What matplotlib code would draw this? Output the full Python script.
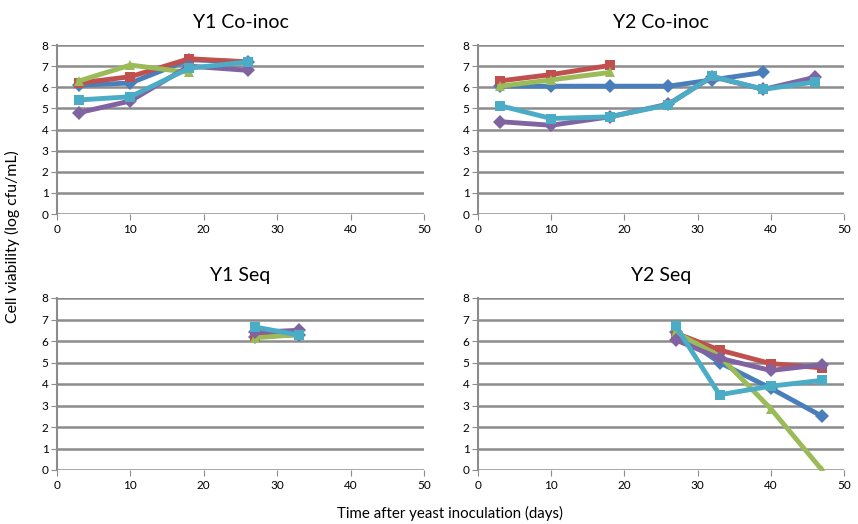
import matplotlib.pyplot as plt

plt.rcParams['font.family'] = ['Lato', 'DejaVu Sans']

# Sampling days for each panel
y1_co_days = [3, 10, 18, 26]
y2_co_days = [3, 10, 18, 26, 32, 39, 46]
y1_seq_days = [27, 33]
y2_seq_days = [27, 33, 40, 47]

# Y1 Co-inoc (log cfu/mL)
y1_co_blue = [6.1, 6.2, 7.3, 7.2]
y1_co_red = [6.2, 6.5, 7.35, 7.2]
y1_co_green = [6.3, 7.05, 6.7]
y1_co_purple = [4.8, 5.35, 7.0, 6.8]
y1_co_cyan = [5.4, 5.55, 6.9, 7.2]

# Y2 Co-inoc
y2_co_blue = [6.05, 6.05, 6.05, 6.05, 6.35, 6.7]
y2_co_red = [6.3, 6.6, 7.03]
y2_co_green = [6.05, 6.35, 6.7]
y2_co_purple = [4.37, 4.2, 4.6, 5.2, 6.5, 5.9, 6.47]
y2_co_cyan = [5.13, 4.52, 4.6, 5.17, 6.52, 5.9, 6.25]

# Y1 Seq
y1_seq_blue = [6.2, 6.3]
y1_seq_red = [6.25, 6.3]
y1_seq_green = [6.15, 6.3]
y1_seq_purple = [6.4, 6.5]
y1_seq_cyan = [6.65, 6.27]

# Y2 Seq
y2_seq_blue = [6.4, 5.0, 3.8, 2.5]
y2_seq_red = [6.37, 5.58, 4.95, 4.75]
y2_seq_green = [6.4, 5.3, 2.85, 0.0]
y2_seq_purple = [6.05, 5.2, 4.63, 4.9]
y2_seq_cyan = [6.7, 3.5, 3.9, 4.17]

colors = {'blue': '#4A7EBB', 'red': '#C0504D', 'green': '#9BBB59',
          'purple': '#8064A2', 'cyan': '#4BACC6'}
markers = {'blue': 'D', 'red': 's', 'green': '^', 'purple': 'D', 'cyan': 's'}

panels = [
    ('Y1 Co-inoc', y1_co_days, {'blue': y1_co_blue, 'red': y1_co_red, 'green': y1_co_green,
                                'purple': y1_co_purple, 'cyan': y1_co_cyan}),
    ('Y2 Co-inoc', y2_co_days, {'blue': y2_co_blue, 'red': y2_co_red, 'green': y2_co_green,
                                'purple': y2_co_purple, 'cyan': y2_co_cyan}),
    ('Y1 Seq', y1_seq_days, {'blue': y1_seq_blue, 'red': y1_seq_red, 'green': y1_seq_green,
                             'purple': y1_seq_purple, 'cyan': y1_seq_cyan}),
    ('Y2 Seq', y2_seq_days, {'blue': y2_seq_blue, 'red': y2_seq_red, 'green': y2_seq_green,
                             'purple': y2_seq_purple, 'cyan': y2_seq_cyan}),
]

fig = plt.figure(figsize=(8.58, 5.24), dpi=100)
W, H = 858, 524
boxes = [(57, 45, 424, 214), (478, 45, 844, 214),
         (57, 298, 424, 470), (478, 298, 844, 470)]

for (title, days, series), (x0, y0, x1, y1) in zip(panels, boxes):
    ax = fig.add_axes([x0 / W, 1 - y1 / H, (x1 - x0) / W, (y1 - y0) / H])
    for key, vals in series.items():
        ax.plot(days[:len(vals)], vals, color=colors[key], marker=markers[key],
                lw=3.5, ms=7, markeredgewidth=0)
    ax.set_xlim(0, 50)
    ax.set_ylim(0, 8)
    ax.set_xticks(range(0, 51, 10))
    ax.set_yticks(range(0, 9))
    ax.yaxis.grid(True, color='#8C8C8C', lw=1.8)
    ax.set_axisbelow(True)
    for s in ['top', 'right', 'bottom']:
        ax.spines[s].set_visible(False)
    ax.spines['left'].set_color('#8C8C8C')
    ax.spines['left'].set_linewidth(1.5)
    ax.tick_params(axis='y', length=4, color='#8C8C8C', labelsize=8.5, pad=2)
    ax.tick_params(axis='x', length=4, color='#8C8C8C', labelsize=8.5, pad=3)
    ax.set_title(title, fontsize=14, pad=12)

fig.text(12 / W, 1 - 237 / H, 'Cell viability (log cfu/mL)', rotation=90,
         ha='center', va='center', fontsize=11.4)
fig.text(450 / W, 1 - 513 / H, 'Time after yeast inoculation (days)',
         ha='center', va='center', fontsize=10.8)

fig.savefig('out.png', dpi=100)
